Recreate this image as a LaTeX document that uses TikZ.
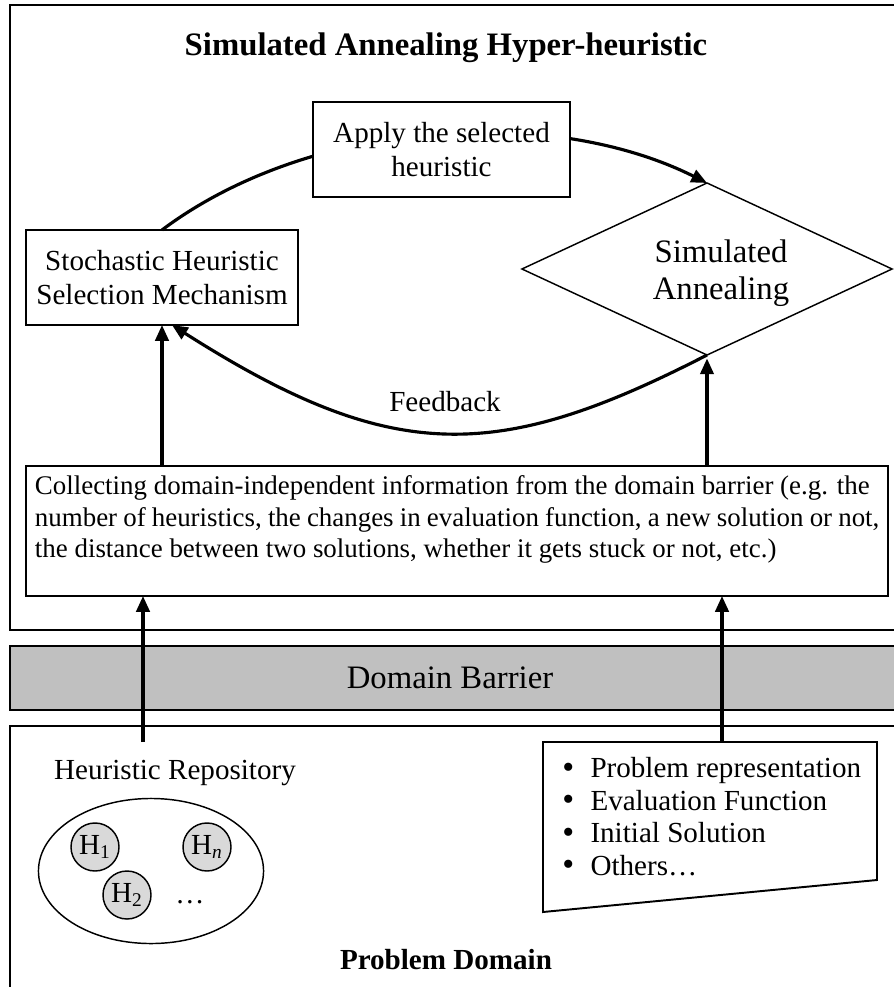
\documentclass[tikz,border=0pt]{standalone}
\usepackage{fontspec}
\setmainfont{Liberation Serif}
\usepackage{tikz}
\usetikzlibrary{shapes.geometric, arrows.meta, calc}
\definecolor{barriergray}{RGB}{192,192,192}
\definecolor{hgray}{RGB}{217,217,217}
\tikzstyle{box} = [rectangle, draw=black, line width=0.8pt, fill=white, align=center, inner sep=0pt, outer sep=0pt]
\tikzstyle{frame} = [draw=black, line width=0.8pt]
\tikzstyle{arr} = [line width=1.3pt, -{Triangle[length=6.5pt,width=5.5pt]}]
\tikzstyle{hcirc} = [circle, draw=black, line width=0.6pt, fill=hgray, minimum size=0.696cm, inner sep=0pt]
\newcommand{\bul}{\makebox[0.406cm][l]{\smash{\raisebox{-0.3pt}{\fontsize{14}{12}\selectfont\textbullet}}}}

\begin{document}
\begin{tikzpicture}[x=0.0145cm, y=-0.0145cm, font=\fontsize{12}{13.8}\selectfont]
        \useasboundingbox (0,0) rectangle (893,987);
        % frames and barrier
        \draw[frame] (10,5) rectangle (910,630);
        \draw[frame, fill=barriergray] (10,646) rectangle (910,710);
        \draw[frame] (10,726) rectangle (910,1010);
        \node[font=\bfseries\fontsize{13.5}{16}\selectfont] (title) at (446,48) {Simulated Annealing Hyper-heuristic};
        \node (bar) at (450,678) {\fontsize{13.5}{16}\selectfont Domain Barrier};
        \node[font=\bfseries\fontsize{12}{14}\selectfont] (pd) at (446,960) {Problem Domain};

        % hyper-heuristic
        \node[box, minimum width=3.944cm, minimum height=1.378cm] (sel) at (162,277.5) {Stochastic Heuristic\\Selection Mechanism};
        \node[diamond, draw=black, line width=0.6pt, minimum width=5.365cm, minimum height=2.494cm, inner sep=0pt, outer sep=0pt] (sa) at (707,269) {};
        \node[align=center, font=\fontsize{13.5}{15.5}\selectfont] (satext) at (721,273) {Simulated\\Annealing};
        \draw[line width=1.3pt, -{Triangle[length=6.5pt,width=5.5pt]}] (sel.north) .. controls +(151,-113) and +(-155,-77.5) .. (sa.north);
        \node[box, minimum width=3.727cm, minimum height=1.378cm] (apply) at (441.5,149.5) {Apply the selected\\heuristic};
        \draw[arr] (sa.south) .. controls +(-210,108) and +(220,140) .. ([xshift=0.145cm]sel.south);
        \node (fb) at (445,402) {Feedback};
        \node[box, anchor=north west, inner xsep=0.13cm, inner ysep=0.14cm] (coll) at (26,466) {\parbox[c][1.605cm][t]{12.24cm}{\raggedright\fontsize{11.1}{13}\selectfont Collecting domain-independent information from the domain barrier (e.g. the\\
number of heuristics, the changes in evaluation function, a new solution or not,\\
the distance between two solutions, whether it gets stuck or not, etc.)}};
        \draw[arr] (sel.south |- coll.north) -- (sel.south);
        \draw[arr] (sa.south |- coll.north) -- ([yshift=-0.05cm]sa.south);

        % problem domain
        \node (repo) at (175,773) {Heuristic Repository};
        \node[ellipse, draw=black, line width=0.6pt, minimum width=3.263cm, minimum height=2.103cm] (pool) at (151,871) {};
        \node[hcirc] (h1) at (95,847) {H\textsubscript{1}};
        \node[hcirc] (hn) at (207,847) {H\textsubscript{\textit{n}}};
        \node[hcirc] (h2) at (127,895) {H\textsubscript{2}};
        \node (dots) at (190,902) {\dots};
        \coordinate (pnw) at (543,742);
        \coordinate (pne) at (877,742);
        \coordinate (pse) at (877,880);
        \coordinate (psw) at (543,912);
        \draw[frame] (pnw) -- (pne) -- (pse) -- (psw) -- cycle;
        \node[anchor=north west, align=left, inner sep=0pt, font=\fontsize{12}{13.4}\selectfont] (plist) at (562,757) {\bul Problem representation\\\bul Evaluation Function\\\bul Initial Solution\\\bul Others\dots};
        \coordinate (ptop) at (722,742);
        \coordinate (rtop) at (143,742);
        \draw[arr] (rtop) -- (rtop |- coll.south);
        \draw[arr] (ptop) -- (ptop |- coll.south);
\end{tikzpicture}
\end{document}
